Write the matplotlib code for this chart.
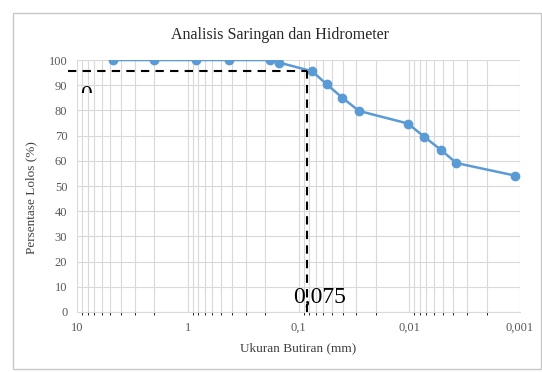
import numpy as np
import matplotlib.pyplot as plt
from matplotlib.patches import Rectangle
from matplotlib.ticker import FixedLocator, LogLocator, NullFormatter

plt.rcParams['font.family'] = ['Liberation Serif', 'DejaVu Serif']

# grain size (mm) and percent passing
diameter = [4.75, 2.0, 0.85, 0.425, 0.18, 0.15, 0.075, 0.0555, 0.0401, 0.0285,
            0.0103, 0.0073, 0.0052, 0.00375, 0.0011]
passing = [100, 100, 100, 100, 100, 99, 95.5, 90.3, 85.0, 79.8,
           74.8, 69.5, 64.4, 59.1, 54.1]
xticks = [10, 1, 0.1, 0.01, 0.001]
xlabels = ['10', '1', '0,1', '0,01', '0,001']
yticks = list(range(0, 101, 10))

# guide lines
guide_x = 0.084
guide_y = 95.5
guide_x_start = 12.1

fig = plt.figure(figsize=(5.42, 3.72), dpi=100)
fig.patches.append(Rectangle((13 / 542, 3 / 372), 528 / 542, 356 / 372,
                             transform=fig.transFigure, fill=False,
                             edgecolor='#c8c8c8', linewidth=1))
ax = fig.add_axes([77 / 542, 60 / 372, 443 / 542, 252 / 372])

ax.set_xscale('log')
ax.set_xlim(10, 0.001)
ax.set_ylim(0, 100)
ax.xaxis.set_major_locator(FixedLocator(xticks))
ax.set_xticklabels(xlabels)
ax.xaxis.set_minor_locator(LogLocator(base=10, subs=np.arange(2, 10)))
ax.xaxis.set_minor_formatter(NullFormatter())
ax.set_yticks(yticks)
ax.grid(True, which='major', color='#d9d9d9', linewidth=0.8)
ax.grid(True, which='minor', axis='x', color='#d9d9d9', linewidth=0.8)
for s in ['top', 'right', 'left']:
    ax.spines[s].set_visible(False)
ax.spines['bottom'].set_color('#d9d9d9')
ax.tick_params(length=0, labelsize=9, colors='#595959', pad=7)
ax.set_axisbelow(True)

ax.plot(diameter, passing, color='#5b9bd5', linewidth=1.8, marker='o',
        markersize=6, zorder=3)

ax.plot([guide_x_start, guide_x], [guide_y, guide_y], color='black',
        linestyle=(0, (4, 3)), linewidth=1.5, clip_on=False, zorder=4)
ax.plot([guide_x, guide_x], [0, guide_y], color='black',
        linestyle=(0, (4, 3)), linewidth=1.5, zorder=4)

ax.text(0.112, 1.5, '0,075', fontsize=17, color='black', ha='left', va='bottom')
# top of a clipped-off "0" near the upper left
t = ax.text(0.007, 0.90, '0', fontsize=17, color='black', ha='left', va='top',
            transform=ax.transAxes, clip_on=True)
t.set_clip_path(Rectangle((0, 0.868), 0.2, 0.1, transform=ax.transAxes))

ax.set_title('Analisis Saringan dan Hidrometer', fontsize=11.5, color='#262626',
             x=0.458, y=1.0, pad=15)
ax.set_xlabel('Ukuran Butiran (mm)', fontsize=9.5, color='#404040', labelpad=6)
ax.set_ylabel('Persentase Lolos (%)', fontsize=9.5, color='#404040')
ax.yaxis.set_label_coords(-0.09, 0.456)

fig.savefig('out.png', dpi=100)
